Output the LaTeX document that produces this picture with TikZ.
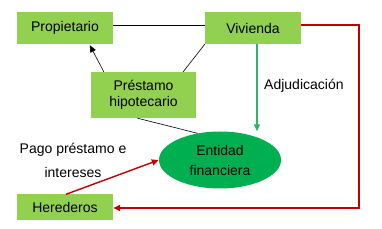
\documentclass[tikz,border=0pt]{standalone}
\usepackage{fontspec}
\setmainfont{Liberation Sans}
\usetikzlibrary{arrows.meta,shapes.geometric}
\definecolor{boxgreen}{HTML}{92D050}
\definecolor{ellgreen}{HTML}{00B050}
\definecolor{arrgreen}{HTML}{2DB46A}
\definecolor{darkred}{HTML}{C00000}
\tikzset{
  box/.style={fill=boxgreen, draw=none, inner sep=0pt, font=\fontsize{14}{17}\selectfont, align=center},
  lbl/.style={font=\fontsize{14}{24}\selectfont, align=center, inner sep=0pt},
  blk/.style={draw=black, line width=0.6pt},
  tip/.style={-{Triangle[length=7pt,width=6pt]}}
}
\begin{document}
\begin{tikzpicture}[x=1pt,y=-1pt]
\useasboundingbox (0,0) rectangle (382,229);
\node[box, minimum width=96pt, minimum height=32pt] (prop) at (65,28) {Propietario};
\node[box, minimum width=96pt, minimum height=32pt] (viv) at (253,28) {Vivienda};
\node[box, minimum width=105pt, minimum height=46pt] (prest) at (143.5,95) {Préstamo\\[-1pt]hipotecario};
\node[box, minimum width=96pt, minimum height=25pt] (her) at (65,207) {Herederos};
\node[ellipse, fill=ellgreen, draw=none, minimum width=122pt, minimum height=57pt, inner sep=0pt, font=\fontsize{14}{20}\selectfont, align=center] (ent) at (220,160) {Entidad\\financiera};
\node[lbl, anchor=west] (adj) at (264,86) {Adjudicación};
\node[lbl] (pago) at (73,160) {Pago préstamo e\\intereses};
% connectors
\draw[blk] (prop.east |- 0,25) -- (viv.west |- 0,25);
\draw[blk, tip] ([xshift=13pt]prest.north west) -- ([xshift=73pt,yshift=-1pt]prop.south west);
\draw[blk] ([xshift=-13pt]prest.north east) -- (viv.south west);
\draw[blk] ([xshift=-6pt]prest.south) -- (ent.130);
\draw[arrgreen, line width=1.4pt, tip] ([xshift=4pt]viv.south) -- ([xshift=4pt]viv.south |- ent.north);
\coordinate (c1) at (359,25);
\coordinate (c2) at (359,208);
\draw[darkred, line width=1.4pt, tip] (viv.east |- c1) -- (c1) -- (c2) -- (her.east |- c2);
\draw[darkred, line width=1.4pt, tip] ([xshift=1pt]her.north) -- (ent.west);
\end{tikzpicture}
\end{document}
